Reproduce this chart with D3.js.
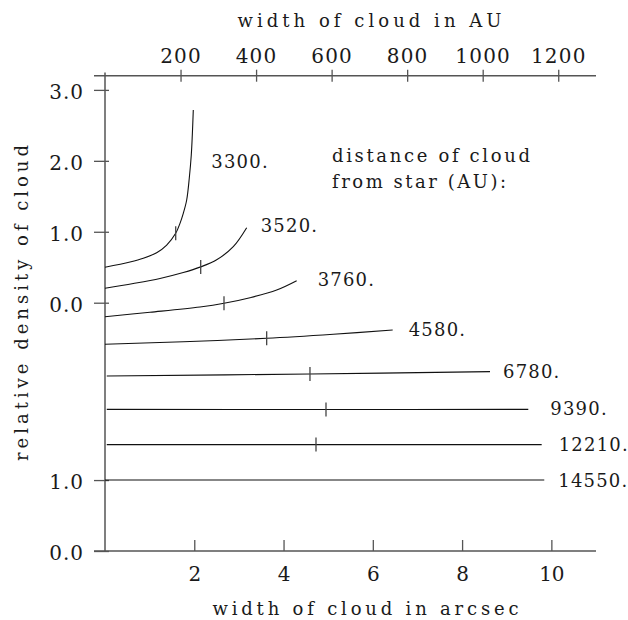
<!DOCTYPE html>
<html>
<head>
<meta charset="utf-8">
<script src="https://cdn.jsdelivr.net/npm/d3@7"></script>
<style>
  html, body { margin: 0; padding: 0; background: #fff; }
  svg { display: block; }
  text { font-family: "DejaVu Serif", "Liberation Serif", serif; fill: #1a1a1a; }
</style>
</head>
<body>
<svg id="chart" width="628" height="620"></svg>
<script>
// Distance of each cloud from the star (AU), used as curve labels
const distances = [3300, 3520, 3760, 4580, 6780, 9390, 12210, 14550];

// Each curve: [width in arcsec, stacked density level]
const curve3300 = [[0, 4.0], [0.56, 4.074], [0.858, 4.126], [1.158, 4.205], [1.382, 4.313], [1.584, 4.478],
                   [1.68, 4.619], [1.754, 4.76], [1.83, 4.948], [1.888, 5.254], [1.933, 5.582],
                   [1.956, 5.864], [1.978, 6.217]];
const curve3520 = [[0, 3.703], [0.634, 3.770], [1.232, 3.842], [1.754, 3.925], [2.144, 4.005], [2.502, 4.105],
                   [2.874, 4.29], [3.174, 4.557]];
const curve3760 = [[0, 3.303], [1.008, 3.365], [2.128, 3.440], [2.666, 3.492], [3.248, 3.571], [3.846, 3.679],
                   [4.294, 3.81]];
const curve4580 = [[0, 2.914], [1.754, 2.950], [3.622, 2.998], [5.115, 3.055], [6.445, 3.115]];
const curve6780 = [[0.04, 2.467], [4.592, 2.495], [8.625, 2.528]];
const curve9390 = [[0.04, 1.997], [4.951, 1.995], [9.483, 1.997]];
const curve12210 = [[0.04, 1.5], [4.727, 1.5], [9.783, 1.5]];
const curve14550 = [[0, 1.0], [9.841, 1.0]];
const curves = [curve3300, curve3520, curve3760, curve4580, curve6780, curve9390, curve12210, curve14550];

// Cross-marks on the curves: [arcsec, level]; the last curve has none
const marks = [[1.584, 4.478], [2.144, 4.005], [2.666, 3.492], [3.622, 2.998], [4.592, 2.495],
               [4.951, 1.995], [4.727, 1.5], null];

// Axis ticks
const arcsecTicks = [2, 4, 6, 8, 10];
const auTicks = [200, 400, 600, 800, 1000, 1200];
const levelTicks = [0, 1, 3.5, 4.5, 5.5, 6.5];
const levelTickLabels = ["0.0", "1.0", "0.0", "1.0", "2.0", "3.0"];

// Label offsets (px) from the end of each curve
const labelOffsets = [[18, 58], [14, 4], [21, 5], [16, 6], [13, 6], [22, 6], [17, 6], [14, 7]];

const svg = d3.select("#chart");
const x = d3.scaleLinear().domain([0, 11]).range([105, 596]);
const xAU = d3.scaleLinear().domain([0, 1300]).range([105, 596]);
const y = d3.scaleLinear().domain([0, 6.7]).range([551, 75.7]);

const axisColor = "#555";
const textColor = "#1a1a1a";

// Frame lines
svg.append("line").attr("x1", 94).attr("x2", 596).attr("y1", y(6.7)).attr("y2", y(6.7))
  .attr("stroke", axisColor).attr("stroke-width", 1.5);
svg.append("line").attr("x1", 94).attr("x2", 596).attr("y1", y(0)).attr("y2", y(0))
  .attr("stroke", axisColor).attr("stroke-width", 1.5);
svg.append("line").attr("x1", x(0)).attr("x2", x(0)).attr("y1", 72.5).attr("y2", y(0))
  .attr("stroke", axisColor).attr("stroke-width", 1.5);

// Bottom axis (arcsec), ticks pointing inward
const gB = svg.append("g").attr("transform", `translate(0,${y(0)})`)
  .call(d3.axisBottom(x).tickValues(arcsecTicks).tickFormat(d3.format("d"))
    .tickSizeInner(-11).tickSizeOuter(0).tickPadding(16));
gB.select(".domain").remove();
gB.selectAll("line").attr("stroke", axisColor).attr("stroke-width", 1.3);
gB.selectAll("text").attr("font-size", 20).attr("font-family", null).style("fill", textColor);

// Top axis (AU), ticks crossing the line
const gT = svg.append("g").attr("transform", `translate(0,${y(6.7)})`)
  .call(d3.axisTop(xAU).tickValues(auTicks).tickFormat(d3.format("d"))
    .tickSizeInner(6).tickSizeOuter(0).tickPadding(6.5));
gT.select(".domain").remove();
gT.selectAll("line").attr("y1", 6).attr("stroke", axisColor).attr("stroke-width", 1.3);
gT.selectAll("text").attr("font-size", 20).attr("font-family", null).attr("letter-spacing", 1.2)
  .style("fill", textColor);

// Left axis (stacked density levels)
const gL = svg.append("g").attr("transform", `translate(${x(0)},0)`)
  .call(d3.axisLeft(y).tickValues(levelTicks).tickFormat((d, i) => levelTickLabels[i])
    .tickSizeInner(11).tickSizeOuter(0).tickPadding(10));
gL.select(".domain").remove();
gL.selectAll("line").attr("x2", -11).attr("x1", 4).attr("stroke", axisColor).attr("stroke-width", 1.3);
gL.selectAll("text").attr("font-size", 20).attr("font-family", null).attr("dy", "0.44em")
  .attr("letter-spacing", 1).style("fill", textColor);

// Curves
const line = d3.line().x(d => x(d[0])).y(d => y(d[1])).curve(d3.curveCatmullRom.alpha(0.5));
svg.append("g").selectAll("path").data(curves).join("path")
  .attr("d", line).attr("fill", "none").attr("stroke", "#111").attr("stroke-width", 1.1);

// Cross-marks
svg.append("g").selectAll("line").data(marks.filter(m => m)).join("line")
  .attr("x1", d => x(d[0])).attr("x2", d => x(d[0]))
  .attr("y1", d => y(d[1]) - 7).attr("y2", d => y(d[1]) + 7)
  .attr("stroke", "#444").attr("stroke-width", 1.3);

// Curve labels
svg.append("g").selectAll("text").data(distances).join("text")
  .attr("x", (d, i) => x(curves[i][curves[i].length - 1][0]) + labelOffsets[i][0])
  .attr("y", (d, i) => y(curves[i][curves[i].length - 1][1]) + labelOffsets[i][1])
  .attr("font-size", 18).attr("letter-spacing", 1.2)
  .text(d => d + ".");

// Legend heading
svg.append("text").attr("x", 332).attr("y", 162).attr("font-size", 18)
  .attr("textLength", 198).attr("lengthAdjust", "spacing").text("distance of cloud");
svg.append("text").attr("x", 332).attr("y", 188).attr("font-size", 18)
  .attr("textLength", 174).attr("lengthAdjust", "spacing").text("from star (AU):");

// Axis titles
svg.append("text").attr("x", 237.5).attr("y", 26.5).attr("font-size", 18)
  .attr("textLength", 264).attr("lengthAdjust", "spacing").text("width of cloud in AU");
svg.append("text").attr("x", 212.5).attr("y", 615).attr("font-size", 18)
  .attr("textLength", 306).attr("lengthAdjust", "spacing").text("width of cloud in arcsec");
svg.append("text").attr("transform", "translate(28,461) rotate(-90)").attr("font-size", 18)
  .attr("textLength", 316).attr("lengthAdjust", "spacing").text("relative density of cloud");
</script>
</body>
</html>
